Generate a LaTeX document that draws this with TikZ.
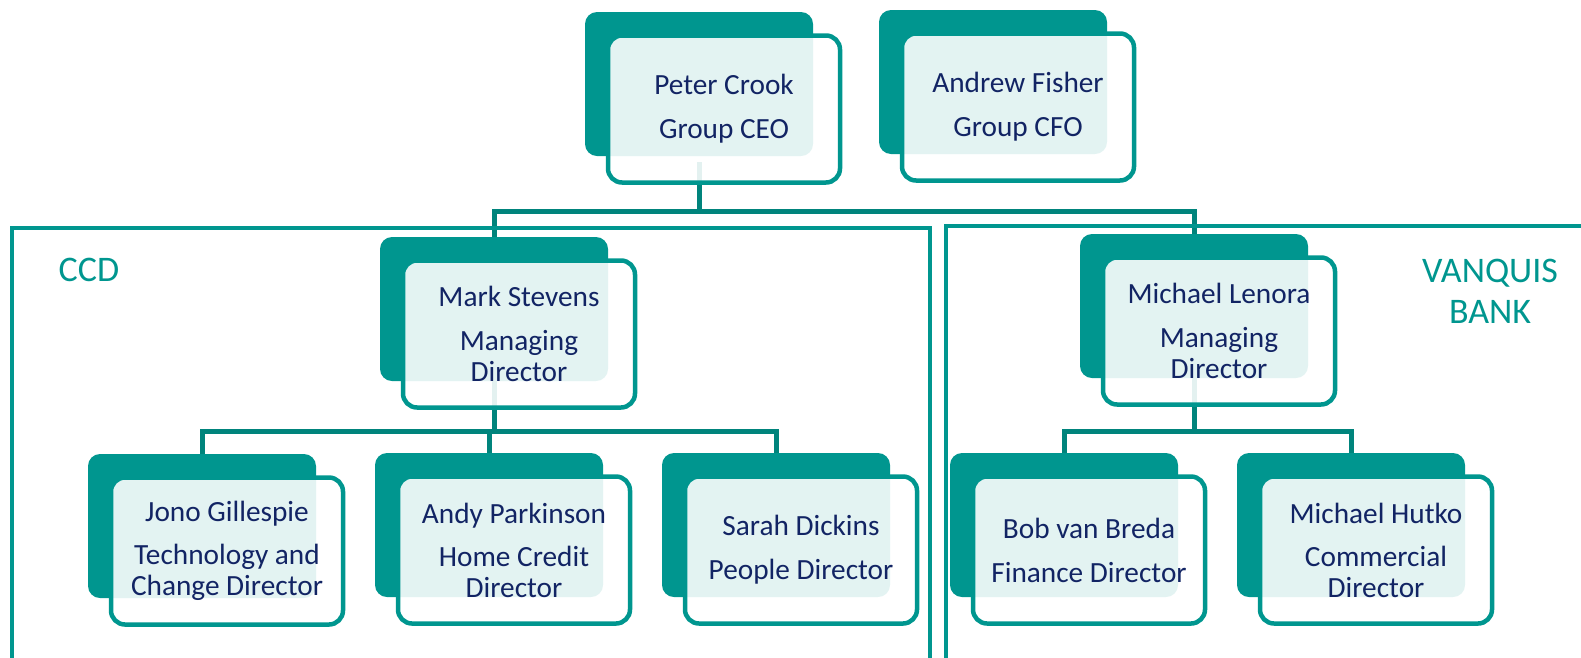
\documentclass[tikz,border=0pt]{standalone}
\usepackage{fontspec}
\setmainfont{Carlito}
\definecolor{tealc}{RGB}{0,150,143}
\definecolor{tealline}{RGB}{0,132,124}
\definecolor{navyc}{RGB}{18,36,100}
\pgfdeclarelayer{bg}
\pgfsetlayers{bg,main}
\newcommand\orgcard[4]{%
  \node[backcard] (#1b) at (#2-25,#3-25) {};
  \node[frontcard] (#1) at (#2,#3) {#4};
}
\begin{document}
\begin{tikzpicture}[x=1pt,y=-1pt,
  backcard/.style={fill=tealc, draw=none, rounded corners=12pt, minimum width=228pt, minimum height=144pt, inner sep=0pt},
  frontcard/.style={draw=tealc, line width=4.5pt, fill=white, fill opacity=0.89, text opacity=1, rounded corners=14pt, minimum width=232pt, minimum height=147pt, inner sep=0pt, align=center, text=navyc, font=\fontsize{29.3}{31}\selectfont},
  conn/.style={draw=tealline, line width=5pt},
  framel/.style={draw=tealc, line width=4.5pt},
  grouplabel/.style={text=tealc, align=center, font=\fontsize{36}{41}\selectfont, inner sep=0pt}
]
\useasboundingbox (0,0) rectangle (1581,657);

% frames
\coordinate (ccdbl) at (12,680);
\coordinate (ccdtl) at (12,228);
\coordinate (ccdtr) at (930,228);
\coordinate (ccdbr) at (930,680);
\draw[framel] (ccdbl) -- (ccdtl) -- (ccdtr) -- (ccdbr);
\coordinate (vbbl) at (946,680);
\coordinate (vbtl) at (946,226);
\coordinate (vbtr) at (1600,226);
\draw[framel] (vbbl) -- (vbtl) -- (vbtr);

\node[grouplabel] (ccd) at (89,270) {CCD};
\node[grouplabel] (vb) at (1490,291) {VANQUIS\\BANK};

% cards
\orgcard{pc}{724}{109}{Peter Crook\\[13pt]Group CEO}
\orgcard{af}{1018}{107}{Andrew Fisher\\[13pt]Group CFO}
\orgcard{ms}{519}{334}{Mark Stevens\\[13pt]Managing\\Director}
\orgcard{ml}{1219}{331}{Michael Lenora\\[13pt]Managing\\Director}
\orgcard{jg}{227}{551}{Jono Gillespie\\[12pt]Technology and\\Change Director}
\orgcard{ap}{514}{550}{Andy Parkinson\\[12pt]Home Credit\\Director}
\orgcard{sd}{801}{550}{Sarah Dickins\\[13pt]People Director}
\orgcard{bb}{1089}{550}{Bob van Breda\\[13pt]Finance Director}
\orgcard{mh}{1376}{550}{Michael Hutko\\[12pt]Commercial\\Director}

% connectors
\begin{pgfonlayer}{bg}
\coordinate (bus1) at (0,211);
\coordinate (bus2) at (0,431);
\coordinate (bus3) at (0,431);
\draw[conn] ([yshift=-6pt]pcb.south) -- (pcb.south |- bus1) -| (msb.north);
\draw[conn] (pcb.south |- bus1) -| (mlb.north);
\draw[conn] (msb.south) -- (msb.south |- bus2) -| (jgb.north);
\draw[conn] (msb.south |- bus2) -| (apb.north);
\draw[conn] (msb.south |- bus2) -| (sdb.north);
\draw[conn] (mlb.south) -- (mlb.south |- bus3) -| (bbb.north);
\draw[conn] (mlb.south |- bus3) -| (mhb.north);
\end{pgfonlayer}
\end{tikzpicture}
\end{document}
